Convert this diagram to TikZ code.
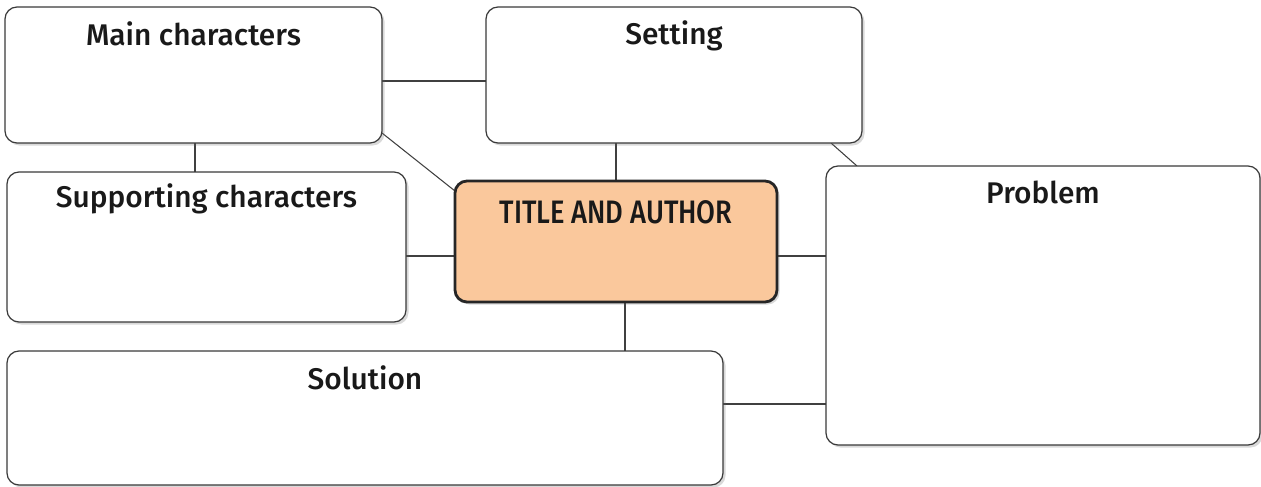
\documentclass[tikz,border=0pt]{standalone}
\usepackage{fontspec}
\setmainfont{Fira Sans Medium}
\newfontfamily\titlefont[FakeStretch=0.84]{Fira Sans Medium}
\usetikzlibrary{positioning, shadows, backgrounds}

\definecolor{boxline}{HTML}{3A3A3A}
\definecolor{titlefill}{HTML}{FAC89C}

\begin{document}
\begin{tikzpicture}[
    box/.style={rectangle, rounded corners=0.24cm, draw=boxline, line width=0.7pt, fill=white,
        inner sep=0pt, outer sep=0pt, anchor=north west,
        drop shadow={shadow xshift=0.05cm, shadow yshift=-0.05cm, opacity=0.25, fill=black!60},
        label distance=0pt},
    titlebox/.style={box, fill=titlefill, draw=black!85, line width=1.6pt},
    head/.style={anchor=center, yshift=-0.54cm, font=\fontsize{17}{20}\selectfont, text=black!90},
    link/.style={draw=black!75, line width=0.6pt}
]
    \useasboundingbox (0,0) rectangle (25.22,-9.72);

    % Boxes
    \node[box, minimum width=7.54cm, minimum height=2.72cm,
        label={[head]north:Main characters}] (main) at (0.10,-0.14) {};
    \node[box, minimum width=7.52cm, minimum height=2.72cm,
        label={[head, yshift=-0.04cm]north:Setting}] (setting) at (9.72,-0.14) {};
    \node[box, minimum width=7.98cm, minimum height=3.00cm,
        label={[head]north:Supporting characters}] (support) at (0.14,-3.44) {};
    \node[titlebox, minimum width=6.44cm, minimum height=2.42cm,
        label={[head, yshift=-0.08cm, font=\titlefont\fontsize{18.5}{21}\selectfont]north:TITLE AND AUTHOR}] (title) at (9.10,-3.62) {};
    \node[box, minimum width=8.68cm, minimum height=5.58cm,
        label={[head, yshift=0.02cm]north:Problem}] (problem) at (16.52,-3.32) {};
    \node[box, minimum width=14.32cm, minimum height=2.68cm,
        label={[head]north:Solution}] (solution) at (0.14,-7.02) {};

    % Connectors
    \begin{pgfonlayer}{background}
        \draw[link] ([yshift=-0.12cm]main.east) -- ([yshift=-0.12cm]main.east -| setting.west);
        \draw[link] ([xshift=0.03cm]main.south) -- ([xshift=0.03cm]main.south |- support.north);
        \draw[link] ([yshift=0.2cm]main.south east) -- ([yshift=-0.2cm]title.north west);
        \draw[link] (title.north) -- (title.north |- setting.south);
        \draw[link] ([xshift=-0.62cm]setting.south east) -- ([xshift=0.62cm]problem.north west);
        \draw[link] ([yshift=-0.29cm]title.west) -- ([yshift=-0.29cm]title.west -| support.east);
        \draw[link] ([yshift=-0.29cm]title.east) -- ([yshift=-0.29cm]title.east -| problem.west);
        \draw[link] ([xshift=0.18cm]title.south) -- ([xshift=0.18cm]title.south |- solution.north);
        \draw[link] ([yshift=0.28cm]solution.east) -- ([yshift=0.28cm]solution.east -| problem.west);
    \end{pgfonlayer}
\end{tikzpicture}
\end{document}
